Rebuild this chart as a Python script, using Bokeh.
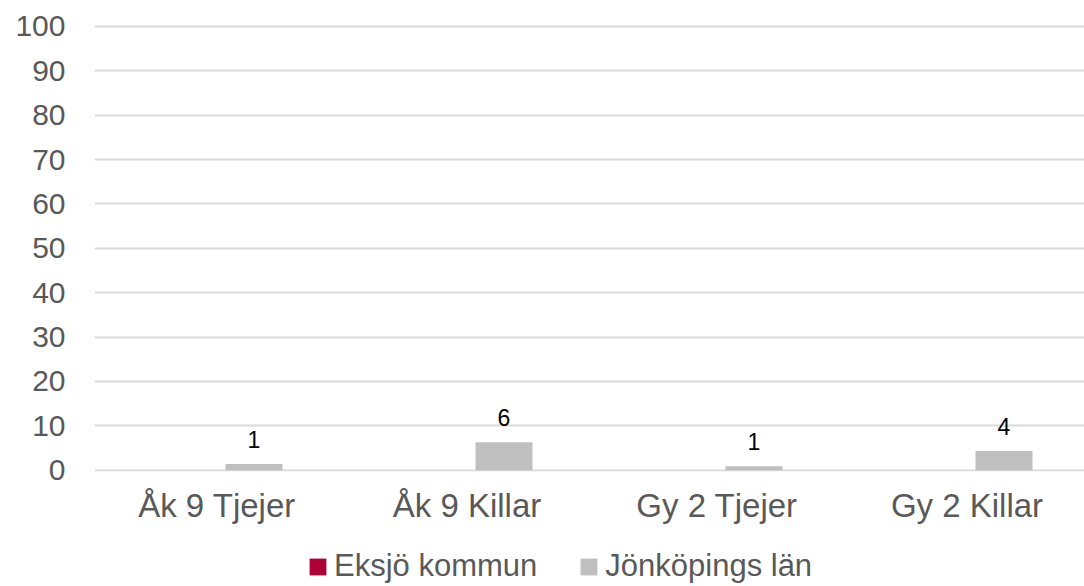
import numpy as np
from bokeh.plotting import figure
from bokeh.layouts import column
from bokeh.models import ColumnDataSource, Range1d, FixedTicker, Legend, LegendItem, LabelSet
from bokeh.core.properties import value
from bokeh.embed import file_html
from bokeh.resources import INLINE

categories = ["Åk 9 Tjejer", "Åk 9 Killar", "Gy 2 Tjejer", "Gy 2 Killar"]
series_names = ["Eksjö kommun", "Jönköpings län"]
series_colors = ["#B0003A", "#BFBFBF"]
eksjo = [np.nan, np.nan, np.nan, np.nan]
jonkoping = [1.4, 6.3, 0.9, 4.3]
y_ticks = [0, 10, 20, 30, 40, 50, 60, 70, 80, 90, 100]

x = np.arange(len(categories)) + 0.5
src = ColumnDataSource(dict(
    x_e=x - 0.148,
    x_j=x + 0.148,
    eksjo=eksjo,
    jon=jonkoping,
    jon_lbl=[str(int(round(v))) for v in jonkoping],
))

FONT = "Liberation Sans"
W = 1084
p = figure(width=W, height=530, output_backend="svg", toolbar_location=None,
           x_range=Range1d(0.01, 3.97), y_range=Range1d(-0.3, 100.45),
           min_border_left=94, min_border_right=0, min_border_top=24, min_border_bottom=59)
p.outline_line_color = None

r_e = p.vbar(x="x_e", top="eksjo", bottom=0, width=0.228, source=src,
             color=series_colors[0], line_color=None)
r_j = p.vbar(x="x_j", top="jon", bottom=0, width=0.228, source=src,
             color=series_colors[1], line_color=None)

labels = LabelSet(x="x_j", y="jon", text="jon_lbl", source=src, text_align="center",
                  text_baseline="bottom", y_offset=16, text_font=value(FONT),
                  text_font_size="23px", text_color="#000000")
p.add_layout(labels)

p.xaxis.ticker = FixedTicker(ticks=list(x))
p.xaxis.major_label_overrides = {float(v): c for v, c in zip(x, categories)}
p.yaxis.ticker = FixedTicker(ticks=y_ticks)
for ax in (p.xaxis, p.yaxis):
    ax.axis_line_color = None
    ax.major_tick_line_color = None
    ax.minor_tick_line_color = None
    ax.major_tick_out = 0
    ax.major_tick_in = 0
    ax.major_label_text_font = FONT
    ax.major_label_text_color = "#595959"
p.xaxis.major_label_text_font_size = "33px"
p.yaxis.major_label_text_font_size = "30px"
p.xaxis.major_label_standoff = 15
p.yaxis.major_label_standoff = 29
p.xgrid.grid_line_color = None
p.ygrid.ticker = FixedTicker(ticks=y_ticks)
p.ygrid.grid_line_color = "#D9D9D9"
p.ygrid.grid_line_width = 2

# legend strip below the chart
lf = figure(width=W, height=56, output_backend="svg", toolbar_location=None,
            x_range=Range1d(0, 1), y_range=Range1d(0, 1),
            min_border=0, min_border_left=0, min_border_right=0,
            min_border_top=0, min_border_bottom=0)
lf.outline_line_color = None
lf.axis.visible = False
lf.grid.visible = False
dummy = ColumnDataSource(dict(x=[-10.0], top=[-10.0]))
lr = [lf.vbar(x="x", top="top", bottom=-11.0, width=0.1, source=dummy, color=c, line_color=None)
      for c in series_colors]
legend = Legend(items=[LegendItem(label=n, renderers=[r]) for n, r in zip(series_names, lr)],
                orientation="horizontal", location=(213, 2),
                label_text_font=FONT, label_text_font_size="31px", label_text_color="#595959",
                glyph_width=21, glyph_height=21, spacing=41, label_standoff=6,
                border_line_color=None, background_fill_alpha=0, margin=0, padding=0)
lf.add_layout(legend)

open("out.html", "w").write(file_html(column(p, lf, spacing=0), INLINE))
